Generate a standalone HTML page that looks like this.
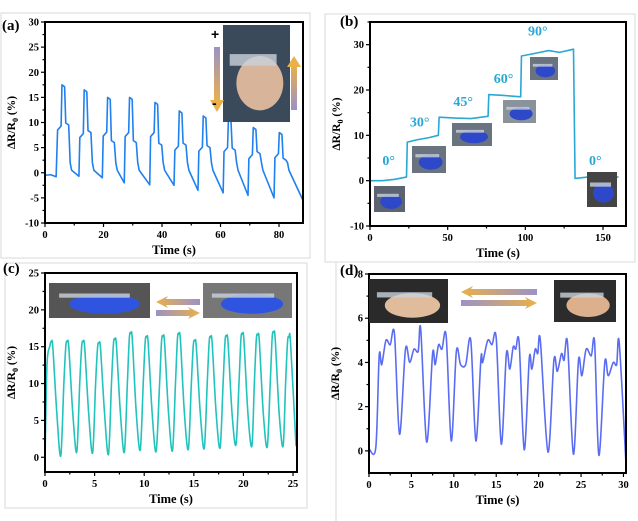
<!DOCTYPE html>
<html><head><meta charset="utf-8">
<style>
html,body{margin:0;padding:0;background:#fff;}
svg{display:block;font-family:"Liberation Serif",serif;}
</style></head><body>
<svg id="fig" width="638" height="521" viewBox="0 0 638 521">
<defs>
<linearGradient id="gv1" x1="0" y1="0" x2="0" y2="1"><stop offset="0" stop-color="#9a92c8"/><stop offset="1" stop-color="#eab04a"/></linearGradient>
<linearGradient id="gv2" x1="0" y1="1" x2="0" y2="0"><stop offset="0" stop-color="#9a92c8"/><stop offset="1" stop-color="#eab04a"/></linearGradient>
<linearGradient id="gh1" x1="0" y1="0" x2="1" y2="0"><stop offset="0" stop-color="#eab04a"/><stop offset="1" stop-color="#9a92c8"/></linearGradient>
<linearGradient id="gh2" x1="0" y1="0" x2="1" y2="0"><stop offset="0" stop-color="#9a92c8"/><stop offset="1" stop-color="#eab04a"/></linearGradient>
</defs>
<rect x="1" y="13" width="309" height="245" fill="none" stroke="#d8d8d8"/>
<rect x="325" y="14" width="310" height="248" fill="none" stroke="#d8d8d8"/>
<rect x="5" y="263" width="302" height="245" fill="none" stroke="#d8d8d8"/>
<line x1="336" y1="262" x2="336" y2="521" stroke="#d8d8d8"/>
<g id="layer"></g>
</svg>
<script>
// ---- Panel (a) data: per-cycle readings ----
const aRiseT = [4.3, 11.9, 19.9, 27.4, 36.1, 44.4, 52.6, 61.2, 69.7, 78.6];
const aShoulder1 = [8.5, 7.0, 7.3, 7.2, 7.2, 4.5, 4.3, 4.2, 2.8, 3.0];
const aPeak = [17.5, 16.5, 15.0, 15.0, 14.0, 12.3, 11.3, 10.5, 9.0, 8.0];
const aShoulder2 = [9.5, 8.0, 6.0, 6.0, 5.5, 5.5, 5.0, 4.5, 3.8, 2.5];
const aTrough = [-0.7, -1.0, -2.0, -2.4, -2.5, -3.5, -4.0, -4.5, -5.0, -5.5];
const aStart = [[0, -0.5], [2, -0.4], [3.8, -0.8]];
// ---- Panel (b) data ----
const bTime = [0, 8, 16, 23.5, 24, 30, 38, 44, 44.5, 55, 65, 76, 76.5, 86, 97, 97.5, 105, 115, 122, 131, 132, 140, 150, 160];
const bValue = [0, 0, 0.3, 0.8, 8.5, 9, 9.5, 10, 14, 13.8, 13.7, 14.2, 19, 18.8, 18.5, 27.5, 28, 28.7, 28.3, 29, 0.5, 0.8, 1.0, 0.8];
const bAngles = ["0°", "30°", "45°", "60°", "90°", "0°"];
const bAngleT = [12, 32, 60, 86, 108, 145];
const bAngleV = [3.5, 12, 16.5, 21.5, 32, 3.5];
// ---- Panel (c) data ----
const cPeakT = [0.64, 2.25, 3.85, 5.45, 7.05, 8.65, 10.25, 11.9, 13.5, 15.1, 16.7, 18.3, 19.9, 21.45, 23.05, 24.6];
const cPeakV = [15.7, 15.7, 15.7, 15.5, 16.0, 16.8, 16.3, 16.4, 16.7, 15.8, 16.3, 16.4, 16.7, 16.6, 16.9, 16.3];
const cTroughV = [0.2, 0.7, 0.6, 0.4, 0.7, 1.0, 0.8, 0.9, 1.1, 1.2, 1.3, 1.7, 1.5, 1.4, 1.5];
// ---- Panel (d) data ----
const dTime = [0, 0.8, 1.2, 1.5, 2.0, 2.5, 3.0, 3.6, 4.3, 4.8, 5.3, 5.8, 6.1, 6.8, 7.5, 7.8, 8.2, 8.6, 9.1, 9.7, 10.3, 10.8, 11.4, 12.0, 12.6, 13.2, 13.4, 14.0, 14.5, 15.0, 15.6, 16.2, 16.6, 17.0, 17.3, 17.7, 18.3, 18.9, 19.2, 19.6, 19.9, 20.2, 21.1, 21.8, 22.2, 22.7, 23.0, 23.4, 24.1, 24.7, 25.1, 25.6, 26.2, 26.6, 27.1, 27.8, 28.2, 28.8, 29.2, 29.5, 30.3];
const dValue = [0.1, 0.15, 4.3, 3.9, 5.0, 4.8, 5.3, 0.75, 4.6, 4.0, 4.6, 4.5, 5.5, 0.4, 4.4, 3.9, 4.8, 4.6, 5.2, 0.45, 4.5, 3.9, 3.9, 5.0, 0.45, 4.2, 4.0, 5.0, 4.8, 5.1, 0.3, 4.4, 3.7, 4.7, 4.6, 4.9, 0.05, 4.2, 3.7, 4.6, 4.4, 5.0, -0.05, 4.1, 3.6, 4.4, 4.1, 4.9, -0.15, 4.1, 3.4, 4.6, 4.3, 4.9, -0.2, 4.0, 3.4, 4.0, 3.9, 4.9, -0.6];

const NS = "http://www.w3.org/2000/svg";
const layer = document.getElementById("layer");
function mk(tag, attrs, parent) {
  const e = document.createElementNS(NS, tag);
  for (const k in attrs) e.setAttribute(k, attrs[k]);
  (parent || layer).appendChild(e);
  return e;
}
function axes(p) {
  const g = mk("g", {});
  
  
  p.sx = v => p.L + (v - p.x0) / (p.x1 - p.x0) * (p.R - p.L);
  p.sy = v => p.B - (v - p.y0) / (p.y1 - p.y0) * (p.B - p.T);
  for (let v = p.ymin; v <= p.y1 + 1e-9; v += p.ym) {
    const y = p.sy(v);
    const major = Math.abs(v / p.yM - Math.round(v / p.yM)) < 1e-6;
    mk("line", {x1: p.L - (major ? 4 : 2.5), x2: p.L, y1: y, y2: y, stroke: "#000", "stroke-width": 1.2}, g);
    if (major) {
      const t = mk("text", {x: p.L - 6, y: y + 3.5, "text-anchor": "end", "font-size": 10.5, "font-weight": "bold"}, g);
      t.textContent = String(v);
      
      
    }
  }
  for (let v = p.x0; v <= p.x1 + 1e-9; v += p.xm) {
    const x = p.sx(v);
    const major = Math.abs(v / p.xM - Math.round(v / p.xM)) < 1e-6;
    mk("line", {x1: x, x2: x, y1: p.B, y2: p.B + (major ? 4 : 2.5), stroke: "#000", "stroke-width": 1.2}, g);
    if (major) {
      const t = mk("text", {x: x, y: p.B + 15, "text-anchor": "middle", "font-size": 10.5, "font-weight": "bold"}, g);
      t.textContent = String(v);
      
      
    }
  }
  const xt = mk("text", {x: (p.L + p.R) / 2, y: p.B + 31, "text-anchor": "middle", "font-size": 12.5, "font-weight": "bold"}, g);
  xt.textContent = "Time (s)";
  
  
  const cy = (p.T + p.B) / 2, cx = p.L - p.ytx;
  const yt = mk("text", {x: cx, y: cy, "text-anchor": "middle", "font-size": 11.5, "font-weight": "bold", transform: `rotate(-90 ${cx} ${cy})`}, g);
  yt.innerHTML = 'ΔR/R<tspan font-size="8" dy="3">0</tspan><tspan dy="-3"> (%)</tspan>';
  
  
  const lt = mk("text", {x: p.lx, y: p.ly, "font-size": 15, "font-weight": "bold"}, g);
  lt.textContent = p.label;
  
  
}
function frame(p) {
  const r = mk("rect", {x: p.L, y: p.T, width: p.R - p.L, height: p.B - p.T, fill: "none", stroke: "#000", "stroke-width": 2});
  
  
}
function linePath(p, pts, color, smooth) {
  const P = pts.map(q => [p.sx(q[0]), p.sy(q[1])]);
  let d = "M" + P[0][0].toFixed(2) + "," + P[0][1].toFixed(2);
  if (!smooth) {
    for (let i = 1; i < P.length; i++) d += "L" + P[i][0].toFixed(2) + "," + P[i][1].toFixed(2);
  } else {
    for (let i = 0; i < P.length - 1; i++) {
      const p0 = P[Math.max(0, i - 1)], p1 = P[i], p2 = P[i + 1], p3 = P[Math.min(P.length - 1, i + 2)];
      const k = 0.16;
      const c1 = [p1[0] + (p2[0] - p0[0]) * k, p1[1] + (p2[1] - p0[1]) * k];
      const c2 = [p2[0] - (p3[0] - p1[0]) * k, p2[1] - (p3[1] - p1[1]) * k];
      c1[0] = Math.min(Math.max(c1[0], p1[0]), p2[0]); c2[0] = Math.min(Math.max(c2[0], p1[0]), p2[0]);
      d += `C${c1[0].toFixed(2)},${c1[1].toFixed(2)} ${c2[0].toFixed(2)},${c2[1].toFixed(2)} ${p2[0].toFixed(2)},${p2[1].toFixed(2)}`;
    }
  }
  const e = mk("path", {d: d, fill: "none", stroke: color, "stroke-width": 1.6, "stroke-linejoin": "round"});
  
  
  return e;
}
function photo(x, y, w, h, name, bg, blob) {
  const g = mk("g", {});
  
  
  mk("rect", {x: x, y: y, width: w, height: h, fill: bg}, g);
  mk("ellipse", {cx: x + w * 0.55, cy: y + h * 0.6, rx: w * 0.35, ry: h * 0.28, fill: blob}, g);
  mk("rect", {x: x + w * 0.1, y: y + h * 0.3, width: w * 0.7, height: h * 0.12, fill: "#c9d2dc", opacity: 0.8}, g);
}
function arrowPair(x, y, w, name) {
  const g = mk("g", {});
  
  
  mk("polygon", {points: `${x},${y + 3} ${x + 12},${y - 3} ${x + 10},${y} ${x + w},${y} ${x + w},${y + 6} ${x + 10},${y + 6} ${x + 12},${y + 9}`, fill: "url(#gh1)"}, g);
  mk("polygon", {points: `${x},${y + 11} ${x + w - 10},${y + 11} ${x + w - 12},${y + 8} ${x + w},${y + 14} ${x + w - 12},${y + 20} ${x + w - 10},${y + 17} ${x},${y + 17}`, fill: "url(#gh2)"}, g);
}

// ---------- Panel (a) ----------
const pa = {id: "panel-a", L: 45, R: 303, T: 22, B: 223, x0: 0, x1: 88.2, xM: 20, xm: 10, y0: -10, y1: 30, ymin: -10, yM: 5, ym: 2.5, ytx: 30, label: "(a)", lx: 2, ly: 30};
axes(pa);
const aPts = aStart.slice();
for (let i = 0; i < aRiseT.length; i++) {
  const r = aRiseT[i];
  aPts.push([r, aShoulder1[i]], [r + 1.2, aShoulder1[i] + 0.8], [r + 1.5, aPeak[i]], [r + 2.4, aPeak[i] - 0.4],
    [r + 2.8, aShoulder2[i] + 0.4], [r + 3.8, aShoulder2[i]], [r + 4.3, 2], [r + 4.8, 0.5]);
  const nxt = i + 1 < aRiseT.length ? aRiseT[i + 1] - 0.3 : 88.2;
  aPts.push([nxt, aTrough[i]]);
}
linePath(pa, aPts, "#1f80ee", false);
frame(pa);
photo(223, 25, 67, 97, "panel-a-inset-photo", "#3b4a5a", "#d8b49a");
mk("rect", {x: 214, y: 47, width: 6, height: 55, fill: "url(#gv1)"});
mk("polygon", {points: "210,100 224,100 217,112", fill: "#eab04a"});
mk("rect", {x: 291, y: 65, width: 6, height: 45, fill: "url(#gv2)"});
mk("polygon", {points: "287,67 301,67 294,56", fill: "#eab04a"});
const plus = mk("text", {x: 211, y: 39, "font-size": 14, "font-weight": "bold", "font-family": "Liberation Sans, sans-serif"}); plus.textContent = "+";


const minus = mk("text", {x: 212, y: 108, "font-size": 14, "font-weight": "bold", "font-family": "Liberation Sans, sans-serif"}); minus.textContent = "-";



// ---------- Panel (b) ----------
const pb = {id: "panel-b", L: 370, R: 626, T: 22, B: 226, x0: 0, x1: 164.8, xM: 50, xm: 25, y0: -10, y1: 35, ymin: -10, yM: 10, ym: 5, ytx: 30, label: "(b)", lx: 340, ly: 26};
axes(pb);
linePath(pb, bTime.map((t, i) => [t, bValue[i]]), "#29a8d4", false);
frame(pb);
photo(374, 186, 31, 26, "panel-b-photo-0deg", "#5b6470", "#2d48c8");
photo(412, 146, 34, 27, "panel-b-photo-30deg", "#6a7480", "#2d48c8");
photo(452, 123, 40, 23, "panel-b-photo-45deg", "#6a7480", "#2d48c8");
photo(503, 100, 33, 23, "panel-b-photo-60deg", "#8a929c", "#2d48c8");
photo(530, 57, 28, 23, "panel-b-photo-90deg", "#6a7480", "#2d48c8");
photo(587, 172, 30, 35, "panel-b-photo-0deg-return", "#444", "#2d48c8");
for (let i = 0; i < bAngles.length; i++) {
  const t = mk("text", {x: pb.sx(bAngleT[i]), y: pb.sy(bAngleV[i]), "text-anchor": "middle", "font-size": 14, "font-weight": "bold", fill: "#29a8d4"});
  t.textContent = bAngles[i];
  
  
}

// ---------- Panel (c) ----------
const pc = {id: "panel-c", L: 45, R: 297, T: 273, B: 472, x0: 0, x1: 25.4, xM: 5, xm: 2.5, y0: -2, y1: 25, ymin: 0, yM: 5, ym: 2.5, ytx: 30, label: "(c)", lx: 3, ly: 273};
axes(pc);
const cPts = [[0, -0.3], [0.2, 12.5]];
for (let i = 0; i < cPeakT.length; i++) {
  cPts.push([cPeakT[i] - 0.15, cPeakV[i] - 0.6], [cPeakT[i], cPeakV[i]], [cPeakT[i] + 0.15, cPeakV[i] - 0.8]);
  if (i < cTroughV.length) {
    cPts.push([cPeakT[i] + 0.55, 6], [cPeakT[i] + 0.95, cTroughV[i]], [cPeakT[i + 1] - 0.35, 10]);
  }
}
cPts.push([25.3, 1.5]);
linePath(pc, cPts, "#22c3bd", true);
frame(pc);
photo(49, 283, 101, 35, "panel-c-photo-straight", "#555", "#2f55e0");
photo(203, 283, 89, 35, "panel-c-photo-bent", "#777", "#2f55e0");
arrowPair(156, 299, 44, "panel-c-arrows");

// ---------- Panel (d) ----------
const pd = {id: "panel-d", L: 369, R: 626, T: 274, B: 473, x0: 0, x1: 30.3, xM: 5, xm: 2.5, y0: -1, y1: 8, ymin: 0, yM: 2, ym: 1, ytx: 30, label: "(d)", lx: 340, ly: 275};
axes(pd);
linePath(pd, dTime.map((t, i) => [t, dValue[i]]), "#5a6cf2", true);
frame(pd);
photo(369, 279, 79, 44, "panel-d-photo-straight-leg", "#2a2a2a", "#e0bc9c");
photo(554, 280, 62, 42, "panel-d-photo-bent-leg", "#2c2c2c", "#dcb08c");
arrowPair(461, 289, 76, "panel-d-arrows");
</script>
</body></html>
